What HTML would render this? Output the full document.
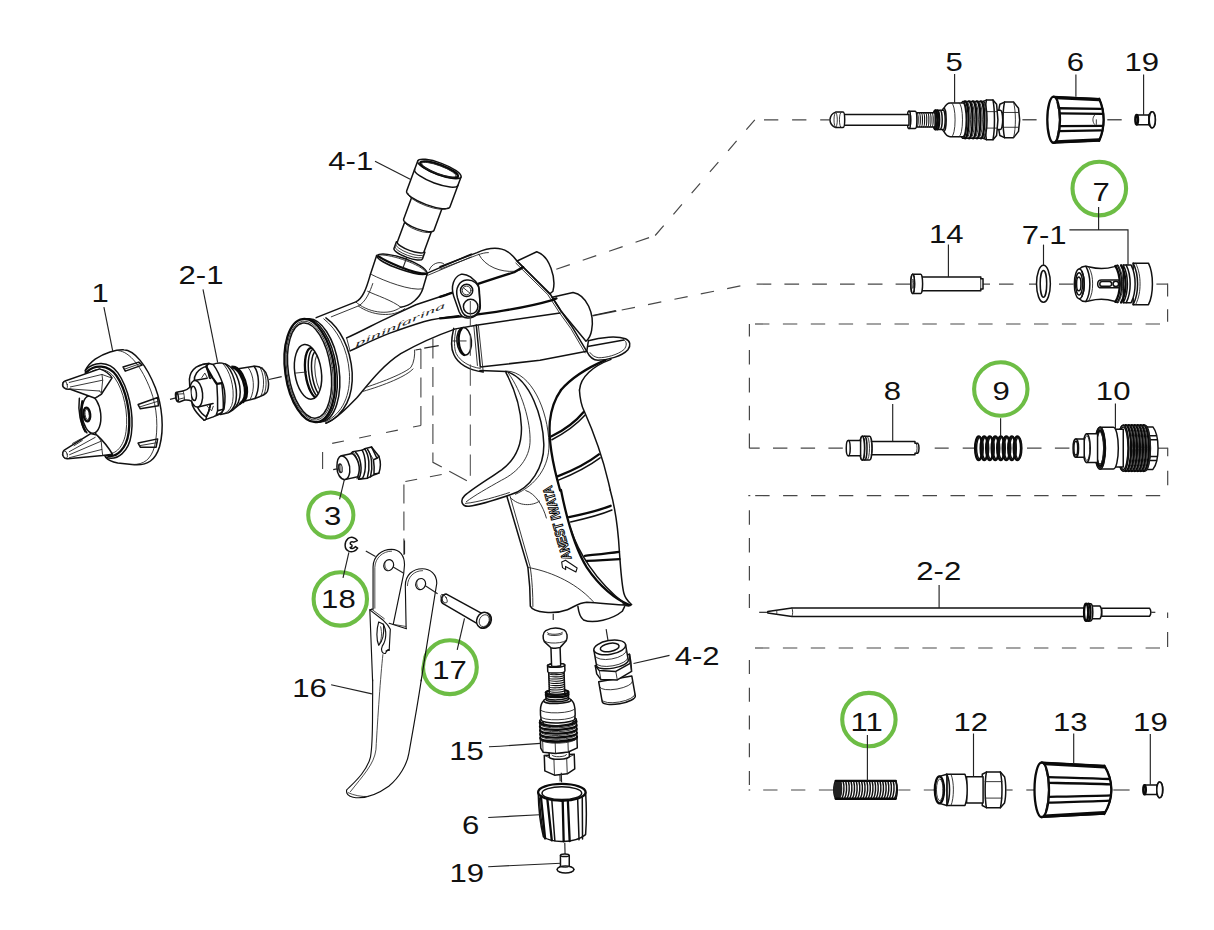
<!DOCTYPE html>
<html><head><meta charset="utf-8"><title>Spray gun parts diagram</title>
<style>
html,body{margin:0;padding:0;background:#fff}
body{width:1214px;height:930px;overflow:hidden}
svg{display:block}
text{font-family:"Liberation Sans",sans-serif;font-size:25.5px;fill:#111}
path,ellipse,circle,line,rect,polyline,polygon{vector-effect:non-scaling-stroke}
.o{fill:none;stroke:#111;stroke-width:1.5;stroke-linejoin:round;stroke-linecap:round}
.of{fill:#fff;stroke:#111;stroke-width:1.5;stroke-linejoin:round;stroke-linecap:round}
.t{fill:none;stroke:#222;stroke-width:0.9;stroke-linejoin:round;stroke-linecap:round}
.tf{fill:#fff;stroke:#222;stroke-width:0.9;stroke-linejoin:round}
.b{fill:none;stroke:#0a0a0a;stroke-width:2.3;stroke-linejoin:round;stroke-linecap:round}
.o2{stroke-width:1.15}
.t2{stroke-width:0.8}
.k{fill:#222;stroke:none}
.ld{fill:none;stroke:#222;stroke-width:1.15}
.d{fill:none;stroke:#444;stroke-width:1.1;stroke-dasharray:14 13}
</style></head><body>
<svg width="1214" height="930" viewBox="0 0 1214 930">
<rect x="0" y="0" width="1214" height="930" fill="#fff" stroke="none"/>
<path d="M556.3 269.2L655.2 235.5" fill="none" stroke="#484848" stroke-width="1.2" stroke-dasharray="14.3 13.6" stroke-dashoffset="-0.00"/>
<path d="M655.2 235.5L754.8 119.8" fill="none" stroke="#484848" stroke-width="1.2" stroke-dasharray="13 14.94" stroke-dashoffset="-0.00"/>
<path d="M754.8 119.8L829 119.8" fill="none" stroke="#484848" stroke-width="1.2" stroke-dasharray="14.3 13.8" stroke-dashoffset="-9.20"/>
<path d="M592.7 315.9L616.4 311.1" fill="none" stroke="#484848" stroke-width="1.2"/>
<path d="M621.7 310L741.6 285.6" fill="none" stroke="#484848" stroke-width="1.2" stroke-dasharray="13.5 13.4" stroke-dashoffset="-0.00"/>
<path d="M756.6 284.1L990 284.1" fill="none" stroke="#484848" stroke-width="1.2" stroke-dasharray="14.7 13.1" stroke-dashoffset="-0.00"/>
<path d="M999 284.1L1078 284.1" fill="none" stroke="#484848" stroke-width="1.2" stroke-dasharray="14.5 15.5" stroke-dashoffset="-0.00"/>
<path d="M1156.4 284.1L1167.6 284.1" fill="none" stroke="#484848" stroke-width="1.2"/>
<path d="M1167.6 283.6L1167.6 296.5" fill="none" stroke="#484848" stroke-width="1.2"/>
<path d="M1167.6 309.3L1167.6 321.7" fill="none" stroke="#484848" stroke-width="1.2"/>
<path d="M755 324L1161 324" fill="none" stroke="#484848" stroke-width="1.2" stroke-dasharray="14.4 13.5" stroke-dashoffset="-0.00"/>
<path d="M749.4 448.2L749.4 324" fill="none" stroke="#484848" stroke-width="1.2" stroke-dasharray="14.6 13.3" stroke-dashoffset="-0.00"/>
<path d="M749.4 448.2L846 448.2" fill="none" stroke="#484848" stroke-width="1.2" stroke-dasharray="14.4 13.3" stroke-dashoffset="4.10"/>
<path d="M934.7 448.2L975 448.2" fill="none" stroke="#484848" stroke-width="1.2" stroke-dasharray="14 14" stroke-dashoffset="-0.00"/>
<path d="M1027 448.2L1075 448.2" fill="none" stroke="#484848" stroke-width="1.2" stroke-dasharray="14.5 13.4" stroke-dashoffset="-0.00"/>
<path d="M1156.8 448.2L1167.7 448.2" fill="none" stroke="#484848" stroke-width="1.2"/>
<path d="M1167.7 447.7L1167.7 456.2" fill="none" stroke="#484848" stroke-width="1.2"/>
<path d="M1167.7 470.7L1167.7 485.2" fill="none" stroke="#484848" stroke-width="1.2"/>
<path d="M748.3 495.6L750.3 495.6" fill="none" stroke="#484848" stroke-width="1.2"/>
<path d="M755.2 495.6L1161.5 495.6" fill="none" stroke="#484848" stroke-width="1.2" stroke-dasharray="14.4 13.5" stroke-dashoffset="-0.00"/>
<path d="M749.4 510.2L749.4 608" fill="none" stroke="#484848" stroke-width="1.2" stroke-dasharray="14.5 13.4" stroke-dashoffset="-0.00"/>
<path d="M1167.6 612.4L1167.6 618" fill="none" stroke="#484848" stroke-width="1.2"/>
<path d="M1167.6 632L1167.6 647" fill="none" stroke="#484848" stroke-width="1.2"/>
<path d="M755 648L1162 648" fill="none" stroke="#484848" stroke-width="1.2" stroke-dasharray="14.4 13.5" stroke-dashoffset="-0.00"/>
<path d="M749.4 659.9L749.4 785.2" fill="none" stroke="#484848" stroke-width="1.2" stroke-dasharray="14 13.75" stroke-dashoffset="-0.00"/>
<path d="M748.6 790L750.2 790" fill="none" stroke="#484848" stroke-width="1.2"/>
<path d="M763.2 790L840 790" fill="none" stroke="#484848" stroke-width="1.2" stroke-dasharray="14.3 13.55" stroke-dashoffset="-0.00"/>
<path d="M898.4 790L940 790" fill="none" stroke="#484848" stroke-width="1.2" stroke-dasharray="12 13.4" stroke-dashoffset="-0.00"/>
<path d="M1006.4 790L1012.6 790" fill="none" stroke="#484848" stroke-width="1.2"/>
<path d="M1026.3 790L1040 790" fill="none" stroke="#484848" stroke-width="1.2" stroke-dasharray="14.5 13.4" stroke-dashoffset="-0.00"/>
<path d="M1113.3 790L1129.6 790" fill="none" stroke="#484848" stroke-width="1.2"/>
<circle cx="1099.3" cy="188.6" r="26.8" fill="none" stroke="#6dbd45" stroke-width="4.1"/>
<circle cx="1000.8" cy="389" r="26.7" fill="none" stroke="#6dbd45" stroke-width="4.1"/>
<circle cx="868.9" cy="719.6" r="26.7" fill="none" stroke="#6dbd45" stroke-width="4.1"/>
<circle cx="330.8" cy="515" r="22.6" fill="none" stroke="#6dbd45" stroke-width="4.0"/>
<circle cx="340.3" cy="598.9" r="26.7" fill="none" stroke="#6dbd45" stroke-width="4.1"/>
<circle cx="449.9" cy="667.2" r="26.9" fill="none" stroke="#6dbd45" stroke-width="4.1"/>
<text transform="translate(91.54,301.80) scale(1.22,1)">1</text>
<text transform="translate(178.47,283.50) scale(1.22,1)">2-1</text>
<text transform="translate(328.30,169.50) scale(1.22,1)">4-1</text>
<text transform="translate(945.53,70.80) scale(1.22,1)">5</text>
<text transform="translate(1066.84,70.80) scale(1.22,1)">6</text>
<text transform="translate(1124.39,70.80) scale(1.22,1)">19</text>
<text transform="translate(1092.53,200.80) scale(1.22,1)">7</text>
<text transform="translate(929.06,243.20) scale(1.22,1)">14</text>
<text transform="translate(1021.71,244.00) scale(1.22,1)">7-1</text>
<text transform="translate(883.65,400.10) scale(1.22,1)">8</text>
<text transform="translate(992.56,400.10) scale(1.22,1)">9</text>
<text transform="translate(1095.86,400.10) scale(1.22,1)">10</text>
<text transform="translate(916.27,579.70) scale(1.22,1)">2-2</text>
<text transform="translate(850.44,730.60) scale(1.22,1)">11</text>
<text transform="translate(953.54,730.60) scale(1.22,1)">12</text>
<text transform="translate(1052.99,730.60) scale(1.22,1)">13</text>
<text transform="translate(1133.09,730.60) scale(1.22,1)">19</text>
<text transform="translate(323.94,524.80) scale(1.22,1)">3</text>
<text transform="translate(321.08,607.70) scale(1.22,1)">18</text>
<text transform="translate(432.24,678.90) scale(1.22,1)">17</text>
<text transform="translate(292.24,697.10) scale(1.22,1)">16</text>
<text transform="translate(449.31,759.90) scale(1.22,1)">15</text>
<text transform="translate(462.04,833.80) scale(1.22,1)">6</text>
<text transform="translate(449.39,882.00) scale(1.22,1)">19</text>
<text transform="translate(674.69,665.00) scale(1.22,1)">4-2</text>
<g transform="translate(270,230) scale(0.20429) "><path class="o" d="M226 429 L420 352 C455 335 472 285 490 222 L522 125"/><path class="t" d="M300 425 L432 372 C470 352 490 300 503 262"/><path class="of" d="M522 125 C560 95 765 165 770 213 C740 235 530 165 522 125 Z"/><path class="b" d="M530 128 C560 150 700 215 768 214"/><path class="t" d="M538 122 C600 120 740 170 762 205"/><path class="o" d="M770 213 L748 288 C735 330 690 372 640 378"/><path class="t" d="M503 262 C520 215 L 500 210"/><path class="t" d="M497 218 C560 250 690 300 748 288"/><path class="t" d="M478 300 C520 320 600 345 640 378"/><path class="t" d="M420 352 C470 400 580 425 640 378"/><path class="t" d="M432 372 C500 420 600 430 660 385"/><path class="o" d="M770 211 L985 118"/><path class="t" d="M772 222 L985 132"/><path class="t" d="M780 195 C790 165 830 150 850 165"/><path class="o" d="M375 528 C450 495 520 455 587 425 L714 366 L891 307"/><path class="o" d="M392 592 C450 565 520 530 587 505 C650 482 700 465 756 448 C820 432 880 425 924 420"/><path class="t" d="M375 528 L392 592"/><path class="o" d="M274 945 C330 925 383 863 424 822 C470 770 540 670 640 605 C720 560 820 515 908 484 L1010 466"/><path class="t" d="M470 770 C560 740 660 700 690 672 C705 650 710 610 708 588"/><path class="t" d="M455 790 C560 760 670 715 700 680"/></g>
<text transform="translate(355.5,347) rotate(-23.8) skewX(-22)" style="font-family:'Liberation Serif',serif;font-style:italic;font-size:7.5px;fill:#222" textLength="98" lengthAdjust="spacingAndGlyphs">pininfarina</text>
<g transform="translate(270,300) scale(0.13978) "><path class="of" d="M400 128 C500 200 575 340 588 520 C596 680 540 820 400 882"/><path class="t" d="M385 135 C480 210 556 345 568 520 C576 675 525 810 395 872"/><ellipse class="of" cx="318" cy="503" rx="176" ry="372" transform="rotate(-8 318 503)" /><ellipse class="of" cx="300" cy="504" rx="176" ry="372" transform="rotate(-8 300 504)" /><ellipse class="b" style="fill:#fff" cx="285" cy="505" rx="176" ry="372" transform="rotate(-8 285 505)" /><ellipse class="t" cx="284" cy="505" rx="163" ry="357" transform="rotate(-8 284 505)" /><ellipse class="o" cx="283" cy="505" rx="152" ry="343" transform="rotate(-8 283 505)" /><ellipse class="o" cx="272" cy="514" rx="95" ry="197" transform="rotate(-8 272 514)" /><clipPath id="holeclip"><ellipse cx="272" cy="514" rx="95" ry="197" transform="rotate(-8 272 514)"/></clipPath><g clip-path="url(#holeclip)"><ellipse class="b" cx="320" cy="522" rx="66" ry="182" transform="rotate(-8 320 522)" /><ellipse class="o" cx="338" cy="525" rx="60" ry="176" transform="rotate(-8 338 525)" /><ellipse class="o" cx="356" cy="528" rx="55" ry="165" transform="rotate(-8 356 528)" /><ellipse class="t" cx="372" cy="530" rx="48" ry="150" transform="rotate(-8 372 530)" /></g><path class="t" d="M180 523 L262 515"/></g>
<g transform="translate(440,230) scale(0.16129) "><path class="of" d="M478 192 L600 135 C680 160 722 300 700 380 L680 397 Z"/><path class="of" d="M695 417 L825 387 C910 402 960 522 940 622 C935 652 920 677 905 690 L750 502 Z"/><path class="of" d="M920 687 C1000 662 1100 657 1150 674 C1180 687 1185 717 1165 742 C1130 782 1040 807 980 807 C950 807 925 782 910 752 Z"/><path class="o" d="M915 722 L1140 682"/><path class="t" d="M1140 682 C1160 690 1160 720 1140 742 C1100 775 1030 792 985 792 C960 790 940 775 930 760"/><path class="o" d="M0 228 L230 140 C300 110 370 105 420 135 C445 150 465 175 480 195 L680 392 L750 502 L820 602 L910 752"/><path class="t" d="M0 243 L228 156 C260 145 280 140 300 140"/><path class="t" d="M470 205 L668 400 L740 512 L812 612 L900 762"/><path class="t" d="M240 150 C280 230 380 262 460 256 C500 252 522 238 515 226"/><path class="b" d="M0 415 C90 385 240 330 460 262 L515 230"/><path class="b" d="M0 548 C200 532 500 492 690 436 L722 424"/><path class="o" d="M225 590 L744 515"/><path class="o" d="M225 590 L250 850 L620 807 L910 752"/><path class="t" d="M238 592 L268 880"/><path class="t" d="M210 598 L232 840"/><path class="of" d="M130 275 C165 268 215 300 240 350 L250 470 C250 520 215 548 170 545 C145 545 128 530 118 505 L85 410 C65 350 85 290 130 275 Z"/><path class="o" d="M165 310 C205 305 240 335 244 375 L248 470 C245 515 215 540 185 538 C160 538 140 520 132 495 L108 420 C92 360 120 315 165 310 Z"/><ellipse class="o" cx="165" cy="375" rx="38" ry="38" transform="rotate(0 165 375)" /><ellipse class="t" cx="165" cy="375" rx="27" ry="27" transform="rotate(0 165 375)" /><path class="t" d="M145 358 L186 392"/><ellipse class="o" cx="190" cy="475" rx="45" ry="45" transform="rotate(0 190 475)" /><ellipse class="o" cx="150" cy="690" rx="45" ry="86" transform="rotate(-5 150 690)" /><path class="b" d="M135 610 C105 650 110 740 150 775"/><path class="t" d="M80 688 L162 688"/><path class="o" d="M85 610 C68 680 70 740 85 770 C110 830 180 870 268 880"/><path class="t" d="M100 615 C85 680 88 735 100 765 C125 815 185 850 250 858"/><path class="b" d="M1025 807 C920 852 820 912 750 992"/><path class="o" d="M1060 802 C950 842 870 912 865 992"/><path class="ld" d="M945 530 L1090 500"/></g>
<path d="M470.3 301L470.3 326.8" fill="none" stroke="#484848" stroke-width="1.0"/>
<path d="M470.3 334.5L470.3 476" fill="none" stroke="#484848" stroke-width="1.0" stroke-dasharray="21.3 8.7" stroke-dashoffset="0.00"/>
<g transform="translate(450,370) scale(0.17212) "><path class="o" d="M325 15 C370 100 410 200 415 330 C418 430 380 520 300 580 C230 630 130 690 85 730 C55 760 70 795 110 792 C180 782 300 742 350 725 C470 690 548 560 545 430 C540 280 470 50 325 8"/><path class="t" d="M340 20 C415 120 470 300 465 420 C460 510 400 590 300 640 C220 685 140 730 95 765"/><path class="t" d="M330 6 C470 10 570 230 575 430 C578 560 500 670 380 722"/><path class="o" d="M174 3 L325 8"/><path class="t" d="M90 775 C160 770 290 730 345 712"/><path class="b" d="M645 116 C600 180 585 250 580 300 C570 420 600 560 640 700"/><path class="o" d="M752 116 C755 170 765 210 780 240 C820 330 880 480 920 650 L931 697"/><path class="b" d="M590 385 C660 350 730 300 775 245"/><path class="o" d="M592 405 C665 368 735 318 785 262"/><path class="b" d="M625 618 C710 585 800 540 865 490"/><path class="o" d="M630 640 C715 605 805 560 872 510"/><path class="t" d="M350 740 C400 795 480 790 520 762"/><path class="t" d="M440 700 C500 720 540 790 560 860"/></g>
<g transform="translate(490,490) scale(0.16129) "><path class="o" d="M105 40 L235 480 C245 560 250 650 250 720 C270 762 400 772 480 742 C520 727 545 700 600 696 C700 700 800 716 872 712"/><path class="t" d="M125 40 L250 480 C262 560 266 650 266 722"/><path class="t" d="M235 480 C350 500 520 560 640 692"/><path class="b" d="M440 0 C470 150 520 350 600 480 C680 600 780 680 862 712"/><path class="o" d="M500 240 C545 380 650 560 835 705"/><path class="o" d="M745 0 C762 60 792 200 802 380 C810 480 815 580 830 640 C840 680 868 700 878 710 C862 728 840 716 825 706"/><path class="b" d="M490 168 C580 150 680 125 748 98"/><path class="o" d="M500 198 C590 178 690 152 756 124"/><path class="b" d="M588 408 C660 400 740 392 800 383"/><path class="b" d="M600 440 C670 436 745 432 803 428"/><path class="o" d="M545 722 C550 762 560 792 580 806 C640 832 760 802 820 752 L835 722"/><path class="ld" d="M392 767 L392 806"/><path class="ld" d="M720 862 L732 935"/></g>
<text transform="translate(571.6,558.4) rotate(-105.2)" style="font-weight:bold;font-size:13.6px;fill:#fff;stroke:#000;stroke-width:1px" textLength="76" lengthAdjust="spacingAndGlyphs">ANEST IWATA</text>
<path class="o" style="stroke-width:1.1" d="M561.7 562.1 L565.5 560.2 L577.1 568 L575.9 572 L565.5 566.4 L565.7 569.6 L562.5 567.6 Z"/>
<g transform="translate(300,120) scale(0.16474) translate(846,297) rotate(20.2)"><path class="ld" d="M0 540 L0 640"/><path class="of" d="M-92 505 L-92 548 A92 24 0 0 0 92 548 L92 505 Z"/><path class="t" d="M-92 520 A92 24 0 0 0 92 520"/><path class="t" d="M-92 535 A92 24 0 0 0 92 535"/><path class="of" d="M-86 378 L-86 505 A86 22 0 0 0 86 505 L86 378 Z"/><path class="of" d="M-98 215 L-98 362 A98 26 0 0 0 98 362 L98 215 Z"/><path class="t" d="M-90 372 A90 24 0 0 0 90 372"/><path class="of" d="M-140 0 L-140 195 A140 36 0 0 0 140 195 L140 0 Z"/><path class="t" d="M-128 205 A128 33 0 0 0 128 205"/><path class="o" d="M-140 55 A140 36 0 0 0 140 55"/><ellipse class="of" cx="0" cy="0" rx="140" ry="36" transform="rotate(0 0 0)" /><ellipse class="b" cx="0" cy="4" rx="122" ry="29" transform="rotate(0 0 4)" /><ellipse class="t" cx="0" cy="6" rx="112" ry="25" transform="rotate(0 0 6)" /></g>
<path class="ld" d="M375 161.2L410.7 179.6"/>
<g transform="translate(50,335) scale(0.15056) "><path class="of" d="M300 160 C360 120 440 95 490 98 C560 100 640 200 700 350 C745 470 760 620 728 740 C700 830 650 868 560 862 L450 850 C400 840 380 825 370 812 C300 700 230 400 235 235 C250 200 280 175 300 160 Z"/><path class="t" d="M455 104 C530 110 610 215 668 365 C712 480 722 625 694 742 C670 825 625 862 548 860"/><path class="o" d="M235 235 C290 175 390 170 450 250 C520 350 560 520 540 660 C525 770 450 840 370 812"/><path class="b" d="M245 245 C295 195 385 195 440 268 C505 360 540 520 522 650 C508 755 440 820 378 800"/><path class="t" d="M258 255 C300 215 380 215 430 285 C490 370 522 520 505 640 C492 740 432 800 385 785"/><path class="o" d="M485 212 L590 180 L612 200 L500 240 Z"/><path class="t" d="M500 225 L600 190"/><path class="o" d="M585 462 L715 415 L720 470 L600 490 Z"/><path class="t" d="M595 478 L718 440"/><path class="o" d="M585 718 L715 690 L705 745 L600 745 Z"/><path class="t" d="M595 735 L712 715"/><path class="o" d="M195 420 C185 500 200 600 245 650"/><ellipse class="of" cx="275" cy="528" rx="62" ry="125" transform="rotate(-6 275 528)" /><ellipse class="b" cx="245" cy="528" rx="22" ry="46" transform="rotate(-6 245 528)" /><ellipse class="t" cx="247" cy="528" rx="14" ry="34" transform="rotate(-6 247 528)" /><path class="b" d="M215 440 C200 500 205 590 235 640"/><path class="of" d="M100 305 L330 225 C370 240 400 262 412 285 L340 395 L300 420 L135 360 C100 365 78 345 85 322 C88 312 93 307 100 305 Z"/><ellipse class="t" cx="100" cy="332" rx="15" ry="26" transform="rotate(-15 100 332)" /><path class="t" d="M128 315 L345 262 L408 285"/><path class="t" d="M135 345 L350 300 L340 395"/><path class="t" d="M130 358 L330 372"/><path class="t" d="M345 262 L350 300"/><path class="t" d="M300 420 L345 390 L330 372"/><path class="of" d="M95 765 L270 655 L312 665 C350 700 390 750 415 792 L350 800 L118 822 C95 825 78 800 85 780 C88 772 90 768 95 765 Z"/><ellipse class="t" cx="100" cy="795" rx="15" ry="26" transform="rotate(-15 100 795)" /><path class="t" d="M128 775 L300 680"/><path class="t" d="M130 795 L340 705 L312 665"/><path class="t" d="M128 815 L345 760 L340 705"/><path class="t" d="M345 760 L350 800"/><path class="t" d="M160 735 L215 700 M150 720 L205 690"/></g>
<path class="ld" d="M103.9 307.2L112.7 350.8"/>
<g transform="translate(170,350) scale(0.09884) "><path class="ld" d="M0 500 L70 482"/><path class="ld" d="M1000 298 L1130 270"/><path class="of" d="M690 190 L850 165 C900 160 940 180 970 230 C1000 290 1005 370 985 420 C970 450 940 460 860 490 L760 515 Z"/><path class="o" d="M850 165 C900 230 915 380 860 490"/><path class="t" d="M905 168 C950 230 965 370 920 465"/><path class="t" d="M930 175 C975 235 990 370 948 455"/><path class="t" d="M790 176 C850 250 865 400 810 503"/></g>
<g transform="translate(180,355) scale(0.07524) "><path class="of" d="M690 150 C760 150 830 260 860 400 C885 520 860 620 800 650 L700 730 Z"/><path class="b" d="M700 165 C775 190 835 300 860 430 C875 540 850 610 800 645"/><path class="b" d="M730 160 C805 185 865 300 888 430 C900 530 880 590 840 625"/><path class="of" d="M440 125 C470 110 520 103 560 108 C640 120 710 180 750 270 C790 360 810 470 795 560 C780 650 720 730 640 768 L540 792 Z"/><path class="o" d="M600 120 C700 200 770 420 745 600 C735 670 700 720 660 755"/><path class="t" d="M560 108 C660 190 730 430 700 620 C690 690 650 745 600 775"/><path class="of" d="M300 125 L385 112 L440 125 C490 190 540 300 575 400 C600 480 605 600 585 720 L540 782 L440 822 L320 866 Z"/><path class="b" d="M345 150 L430 300 L490 385 L555 375"/><path class="o" d="M490 385 C498 500 502 640 500 740 L575 720"/><path class="o" d="M555 375 C568 480 578 620 575 720"/><path class="o" d="M500 740 L480 800 L560 762 L575 720"/><path class="t" d="M480 800 L440 822"/><path class="o" d="M385 112 L345 150"/><path class="of" d="M385 112 C330 112 260 135 215 160 C165 195 130 260 125 320 L132 470 L165 670 C190 730 260 815 320 866 C345 866 352 845 350 822 C420 700 450 400 345 150 Z"/><path class="o" d="M360 150 C310 160 250 200 220 240 C195 275 188 320 190 350 M235 700 C260 745 310 800 350 822"/><path class="o" d="M345 150 C440 330 445 650 350 822"/><path class="t" d="M290 300 L330 240 L362 300 M362 682 L420 742 L442 682"/><path class="of" style="stroke:none" d="M190 340 L360 310 L440 330 L440 640 L240 690 Z"/><path class="o" d="M190 340 L360 310 M240 690 L440 645"/><ellipse class="of" cx="215" cy="515" rx="85" ry="178" transform="rotate(-6 215 515)" /><ellipse class="o" cx="182" cy="510" rx="36" ry="96" transform="rotate(-6 182 510)" /><path class="of" d="M135 425 C110 450 80 470 40 478 L-30 492 C-55 500 -60 560 -45 600 C-35 625 -15 628 0 622 L60 598 C100 595 130 600 152 612"/><ellipse class="o" cx="-40" cy="555" rx="18" ry="62" transform="rotate(-8 -40 555)" /><path class="t" d="M40 478 C55 510 58 560 60 598"/><path class="t" d="M-30 520 L45 515 M-25 590 L55 570"/></g>
<path class="ld" d="M203 289.4L217.7 362.6"/>
<path class="d" style="stroke-dasharray:20 8.5" d="M420.9 349 L420.9 425.5"/>
<path class="d" style="stroke-dasharray:12 15.5;stroke-dashoffset:4" d="M420.9 425.5 L322.6 445.3"/>
<path class="d" style="stroke-dasharray:17 8" d="M322.6 452 L322.6 469"/>
<path class="ld" d="M415.5 350 L421 349"/>
<path class="d" style="stroke-dasharray:20 8.5" d="M432.9 338.4 L432.9 462.3 L468.8 481.7"/>
<path class="ld" d="M424.2 348.1 L438.7 345.6"/>
<path class="d" style="stroke-dasharray:12 13" d="M441.7 474.5 L403.9 481.7"/>
<path class="d" style="stroke-dasharray:19 8" d="M403.9 484.5 L403.9 555"/>
<g transform="translate(328,440) scale(0.04943) "><path class="ld" d="M105 598 L180 585"/><path class="of" d="M690 205 L760 172 L880 140 L1030 330 C1050 390 1062 450 1060 500 C1058 560 1048 620 1030 670 L940 702 L800 772 L620 792 Z"/><path class="o" d="M880 140 L990 370 L1030 330"/><path class="o" d="M990 370 L920 400 C935 500 940 600 930 690 L1030 670"/><path class="t" d="M920 400 L800 190"/><path class="t" d="M930 690 L860 745"/><path class="o" d="M800 190 C880 300 915 520 860 745"/><path class="o" d="M740 178 C830 300 860 540 795 772"/><path class="of" d="M450 285 L500 238 L690 205 C760 320 790 600 700 775 L620 792 Z"/><path class="o" d="M560 250 C650 340 720 600 620 792"/><path class="t" d="M500 238 C600 330 690 600 585 785"/><path class="of" d="M270 320 L490 272 C600 360 680 560 600 742 L340 802 C250 790 180 690 180 540 C182 420 220 335 270 320 Z"/><path class="o" d="M270 320 C380 330 460 500 440 650 C430 730 390 790 340 802"/><ellipse class="k" cx="250" cy="572" rx="50" ry="102" transform="rotate(-8 250 572)" /><ellipse class="" style="fill:#999;stroke:none" cx="262" cy="575" rx="28" ry="70" transform="rotate(-8 262 575)" /></g>
<path class="ld" d="M344.5 479L339.6 499.3"/>
<g transform="translate(320,430) scale(0.15053) "><path class="o" d="M248 735 C235 712 205 705 185 722 C160 745 160 790 190 805 C212 815 238 805 250 785 L235 775 C225 790 205 792 200 780 C215 778 218 765 205 760 C195 752 205 735 225 745 Z"/></g>
<path class="ld" d="M348.9 552.3L343 577.9"/>
<path class="ld" d="M365.8 551L375.5 556.6"/>
<g transform="translate(340,530) scale(0.16129) "><path class="of" style="stroke:none" d="M405 345 C405 280 450 240 510 240 C560 240 600 275 600 330 L490 930 L202 930 L185 495 L205 490 L205 230 C205 160 260 120 320 120 C370 120 400 160 400 215 L395 270 L330 585 L305 578 L412 612 Z"/><path class="o o2" d="M410 610 L405 345 C405 280 450 240 510 240 C560 240 600 275 600 330 L503 935"/><path class="t t2" d="M418 345 C420 290 460 252 512 252"/><ellipse class="o o2" cx="500" cy="335" rx="30" ry="35" transform="rotate(20 500 335)" /><path class="t t2" d="M480 312 C470 330 478 355 492 365"/><path class="o o2" d="M205 490 L205 230 C205 160 260 120 320 120 C370 120 400 160 400 215 L395 270 L330 585"/><path class="t t2" d="M216 485 L216 232 C218 172 265 132 320 131"/><ellipse class="o o2" cx="302" cy="218" rx="30" ry="35" transform="rotate(20 302 218)" /><path class="t t2" d="M282 195 C272 213 280 238 294 248"/><path class="o o2" d="M305 578 L412 612"/><path class="t t2" d="M330 585 L408 598"/><path class="o o2" d="M205 490 L185 495 L202 935"/><path class="o o2" d="M185 495 L268 560 C290 580 305 600 312 615 L305 745 L285 750"/><path class="t t2" d="M195 490 L275 550"/><path class="o o2" d="M240 570 C225 620 225 680 240 715 C262 690 275 640 270 585 Z"/><path class="o o2" d="M268 585 C290 620 290 680 262 720 C250 745 262 770 282 765 C290 745 300 735 305 745"/><path class="t t2" d="M252 600 C262 640 258 680 245 705"/><path class="ld" d="M400 65 L400 150"/></g>
<path class="ld" d="M393.2 567.1L403.7 573.2"/>
<path class="ld" d="M425 585.6L437.6 593.7"/>
<g transform="translate(290,640) scale(0.18285) "><path class="o o2" d="M452 218 L452 300 C450 450 455 560 440 640 C420 720 350 780 310 820 C305 840 320 855 345 860 C400 870 470 850 540 800 C600 750 640 680 650 620 C675 480 700 340 718 218"/><path class="t t2" d="M508 80 C495 200 480 420 470 600 C460 680 400 740 330 830"/><path class="t t2" d="M318 835 C350 850 390 858 430 856"/></g>
<path class="ld" d="M331.1 684.8L371.9 693.9"/>
<g transform="translate(400,560) scale(0.17191) "><path class="of" d="M270 198 L478 312 L452 372 L248 252 C232 240 240 200 270 198 Z"/><ellipse class="t" cx="256" cy="225" rx="14" ry="28" transform="rotate(-28 256 225)" /><path class="t" d="M262 196 C245 205 240 240 255 255"/><ellipse class="of" cx="492" cy="352" rx="38" ry="47" transform="rotate(25 492 352)" /><ellipse class="of" cx="485" cy="350" rx="38" ry="47" transform="rotate(25 485 350)" /><ellipse class="t" cx="490" cy="353" rx="28" ry="36" transform="rotate(25 490 353)" /></g>
<path class="ld" d="M464.5 618.4L457.2 649.9"/>
<g transform="translate(500,620) scale(0.18285) translate(300,48) rotate(-2)"><path class="ld" d="M0 785 L0 835"/><path class="of" d="M-82 690 L-82 775 L-30 800 L40 795 L82 770 L82 690 Z"/><path class="t" d="M-30 800 L-30 715 M40 795 L40 712"/><path class="t" d="M-82 690 L-30 715 L40 712 L82 690"/><path class="of" d="M-55 665 L-55 700 A55 14 0 0 0 55 700 L55 665 A55 14 0 0 0 -55 665 Z"/><path class="of" d="M-55 665 A55 14 0 0 0 55 665" style="fill:none"/><path class="t" d="M-40 690 A40 10 0 0 0 40 690"/><path class="of" d="M-100 598 L-100 650 L-88 672 L-20 682 L50 676 L100 655 L100 598 Z"/><path class="t" d="M-88 672 L-88 612 M-20 682 L-20 622 M50 676 L50 618"/><path class="t" d="M-100 608 L-88 612 L-20 622 L50 618 L100 606"/><path class="of" d="M-100 500 L-100 598 A100 22 0 0 0 100 598 L100 500 A100 22 0 0 0 -100 500 Z"/><path class="of" d="M-100 500 A100 22 0 0 0 100 500" style="fill:none"/><path class="b" d="M-100 510 A100 22 0 0 0 100 510"/><path class="t" d="M-98 520 A98 22 0 0 0 98 520"/><path class="b" d="M-100 531 A100 22 0 0 0 100 531"/><path class="t" d="M-98 541 A98 22 0 0 0 98 541"/><path class="b" d="M-100 552 A100 22 0 0 0 100 552"/><path class="t" d="M-98 562 A98 22 0 0 0 98 562"/><path class="b" d="M-100 573 A100 22 0 0 0 100 573"/><path class="t" d="M-98 583 A98 22 0 0 0 98 583"/><path class="b" d="M-100 594 A100 22 0 0 0 100 594"/><path class="t" d="M-98 604 A98 22 0 0 0 98 604"/><path class="of" d="M-82 488 L-82 512 A82 18 0 0 0 82 512 L82 488 A82 18 0 0 0 -82 488 Z"/><path class="of" d="M-82 488 A82 18 0 0 0 82 488" style="fill:none"/><path class="of" d="M-75 392 C-100 410 -96 470 -92 495 A92 20 0 0 0 92 495 C96 470 100 410 75 392 Z"/><path class="t" d="M-94 440 A94 20 0 0 0 94 440"/><path class="t" d="M-94 478 A94 20 0 0 0 94 478"/><ellipse class="of" cx="0" cy="392" rx="75" ry="17" transform="rotate(0 0 392)" /><path class="of" d="M-62 348 L-62 385 A62 14 0 0 0 62 385 L62 348 A62 14 0 0 0 -62 348 Z"/><path class="of" d="M-62 348 A62 14 0 0 0 62 348" style="fill:none"/><path class="b" d="M-62 360 A62 14 0 0 0 62 360"/><path class="o" d="M-60 375 A60 14 0 0 0 60 375"/><ellipse class="b" style="fill:#fff" cx="0" cy="348" rx="62" ry="14" transform="rotate(0 0 348)" /><path class="of" style="stroke:none" d="M-42 235 L-42 350 L42 350 L42 235 Z"/><path class="o" style="stroke-width:1.1" d="M-42 242 A42 9 0 0 0 42 242"/><path class="o" style="stroke-width:1.1" d="M-42 254 A42 9 0 0 0 42 254"/><path class="o" style="stroke-width:1.1" d="M-42 266 A42 9 0 0 0 42 266"/><path class="o" style="stroke-width:1.1" d="M-42 278 A42 9 0 0 0 42 278"/><path class="o" style="stroke-width:1.1" d="M-42 290 A42 9 0 0 0 42 290"/><path class="o" style="stroke-width:1.1" d="M-42 302 A42 9 0 0 0 42 302"/><path class="o" style="stroke-width:1.1" d="M-42 314 A42 9 0 0 0 42 314"/><path class="o" style="stroke-width:1.1" d="M-42 326 A42 9 0 0 0 42 326"/><path class="o" style="stroke-width:1.1" d="M-42 338 A42 9 0 0 0 42 338"/><path class="o" style="stroke-width:1.1" d="M-42 350 A42 9 0 0 0 42 350"/><path class="o" d="M-42 238 L-42 350 M42 238 L42 350"/><path class="of" d="M-47 200 L-47 232 A47 10 0 0 0 47 232 L47 200 A47 10 0 0 0 -47 200 Z"/><path class="of" d="M-47 200 A47 10 0 0 0 47 200" style="fill:none"/><ellipse class="of" cx="0" cy="200" rx="47" ry="10" transform="rotate(0 0 200)" /><path class="of" d="M-25 95 L-25 200 A25 6 0 0 0 25 200 L25 95 Z"/><path class="of" d="M-50 8 C-70 20 -68 50 -60 68 L-28 100 A28 6 0 0 0 28 100 L60 68 C68 50 70 20 50 8 C20 -6 -20 -6 -50 8 Z"/><path class="t" d="M-62 62 A62 16 0 0 0 62 62"/><path class="t" d="M-42 20 A42 10 0 0 0 42 20"/><path class="t" d="M-40 30 A42 10 0 0 0 40 30"/></g>
<path class="ld" d="M500 746.2L540.6 743.4"/>
<path class="ld" d="M489 746.8L500 746.2"/>
<g transform="translate(500,620) scale(0.18285) translate(600,150) rotate(-10)"><path class="of" d="M-92 175 L-92 285 A92 28 0 0 0 92 285 L92 175 Z"/><path class="t" d="M-92 275 A92 28 0 0 0 92 275"/><path class="t" d="M-90 205 A90 26 0 0 0 90 205"/><path class="of" d="M-95 85 L-95 130 L-78 165 L10 182 L95 150 L100 100 L100 55 Z"/><path class="o" d="M-95 85 L-78 115 L10 135 L95 105 L100 55"/><path class="t" d="M-78 115 L-78 165 M10 135 L10 182 M95 105 L95 150"/><path class="of" d="M-88 0 L-88 85 A88 30 0 0 0 88 85 L88 0 Z"/><path class="t" d="M-88 30 A88 34 0 0 0 88 30"/><path class="t" d="M-88 72 A88 30 0 0 0 88 72"/><ellipse class="of" cx="0" cy="0" rx="88" ry="38" transform="rotate(0 0 0)" /><ellipse class="o" cx="0" cy="0" rx="52" ry="22" transform="rotate(0 0 0)" /></g>
<path class="ld" d="M633.5 663.5L669.5 655.4"/>
<g transform="translate(440,770) scale(0.13974) "><path class="ld" d="M868 20 L870 88"/><path class="ld" d="M893 520 L895 602"/><path class="of" d="M703 165 C705 260 720 400 740 478 C790 520 960 530 1042 462 C1048 380 1048 250 1042 160 Z"/><ellipse class="b" style="fill:#fff" cx="872" cy="160" rx="170" ry="60" transform="rotate(0 872 160)" /><ellipse class="o" cx="872" cy="166" rx="142" ry="46" transform="rotate(0 872 166)" /><path class="b" d="M722 188 L752 490"/><path class="b" d="M768 207 L800 503"/><path class="o" d="M800 214 L822 506"/><path class="b" d="M878 220 L885 510"/><path class="b" d="M915 218 L928 509"/><path class="o" d="M985 205 L995 500"/><path class="o" d="M1018 191 L1020 493"/><path class="o" d="M712 200 C716 290 730 410 748 486"/><path class="of" d="M862 612 L862 690 L840 712 A60 25 0 0 0 958 712 L925 690 L925 612 Z"/><ellipse class="of" cx="893" cy="610" rx="31" ry="9" transform="rotate(0 893 610)" /><ellipse class="of" cx="898" cy="712" rx="60" ry="25" transform="rotate(0 898 712)" /><path class="t" d="M862 690 A32 9 0 0 0 925 690"/></g>
<path class="ld" d="M488.2 817.5L539.5 814.7"/>
<path class="ld" d="M488.2 866.7L560.9 863.3"/>
<g transform="translate(820,80) scale(0.16474) translate(0,242)"><path class="of" d="M1092 -95 L1120 -108 L1175 -108 L1205 -70 L1212 0 L1205 70 L1175 108 L1120 108 L1092 95 C1080 50 1080 -50 1092 -95 Z"/><path class="o" d="M1120 -108 C1108 -50 1108 50 1120 108"/><path class="t" d="M1175 -108 C1190 -50 1190 50 1175 108"/><path class="t" d="M1092 -45 L1205 -45 M1092 45 L1205 45"/><path class="of" d="M1060 -58 L1095 -58 A14 58 0 0 1 1095 58 L1060 58 A14 58 0 0 1 1060 -58 Z"/><path class="of" d="M1060 -58 A14 58 0 0 1 1060 58" style="fill:none"/><path class="of" d="M990 -112 L1010 -120 L1050 -120 L1072 -95 L1080 0 L1072 95 L1050 120 L1010 120 L990 112 Z"/><path class="o" d="M1010 -120 C1000 -60 1000 60 1010 120 M1050 -120 C1062 -60 1062 60 1050 120"/><path class="t" d="M995 -50 L1075 -50 M995 50 L1075 50"/><path class="of" d="M868 -112 L992 -112 A22 112 0 0 1 992 112 L868 112 A22 112 0 0 1 868 -112 Z"/><path class="of" d="M868 -112 A22 112 0 0 1 868 112" style="fill:none"/><path class="b" d="M880 -112 A22 112 0 0 1 880 112"/><path class="t" d="M892 -110 A22 110 0 0 1 892 110"/><path class="b" d="M904 -112 A22 112 0 0 1 904 112"/><path class="t" d="M916 -110 A22 110 0 0 1 916 110"/><path class="b" d="M928 -112 A22 112 0 0 1 928 112"/><path class="t" d="M940 -110 A22 110 0 0 1 940 110"/><path class="b" d="M952 -112 A22 112 0 0 1 952 112"/><path class="t" d="M964 -110 A22 110 0 0 1 964 110"/><path class="b" d="M976 -112 A22 112 0 0 1 976 112"/><path class="t" d="M988 -110 A22 110 0 0 1 988 110"/><path class="of" d="M752 -70 C765 -95 775 -102 790 -102 L868 -102 A20 102 0 0 1 868 102 L790 102 C775 102 765 95 752 70 Z"/><path class="t" d="M800 -102 A20 102 0 0 1 800 102"/><path class="t" d="M845 -102 A20 102 0 0 1 845 102"/><ellipse class="of" cx="752" cy="0" rx="14" ry="70" transform="rotate(0 752 0)" /><path class="of" d="M700 -58 L748 -58 A12 58 0 0 1 748 58 L700 58 A12 58 0 0 1 700 -58 Z"/><path class="of" d="M700 -58 A12 58 0 0 1 700 58" style="fill:none"/><path class="b" d="M712 -58 A12 58 0 0 1 712 58"/><path class="o" d="M730 -57 A12 57 0 0 1 730 57"/><ellipse class="b" style="fill:#fff" cx="700" cy="0" rx="12" ry="58" transform="rotate(0 700 0)" /><path class="of" d="M580 -43 L700 -43 L700 43 L580 43 Z"/><path class="o" style="stroke-width:1.1" d="M588 -43 A8 43 0 0 1 588 43"/><path class="o" style="stroke-width:1.1" d="M601 -43 A8 43 0 0 1 601 43"/><path class="o" style="stroke-width:1.1" d="M614 -43 A8 43 0 0 1 614 43"/><path class="o" style="stroke-width:1.1" d="M627 -43 A8 43 0 0 1 627 43"/><path class="o" style="stroke-width:1.1" d="M640 -43 A8 43 0 0 1 640 43"/><path class="o" style="stroke-width:1.1" d="M653 -43 A8 43 0 0 1 653 43"/><path class="o" style="stroke-width:1.1" d="M666 -43 A8 43 0 0 1 666 43"/><path class="o" style="stroke-width:1.1" d="M679 -43 A8 43 0 0 1 679 43"/><path class="o" style="stroke-width:1.1" d="M692 -43 A8 43 0 0 1 692 43"/><path class="of" d="M540 -53 L578 -53 A10 53 0 0 1 578 53 L540 53 A10 53 0 0 1 540 -53 Z"/><path class="of" d="M540 -53 A10 53 0 0 1 540 53" style="fill:none"/><ellipse class="of" cx="540" cy="0" rx="10" ry="53" transform="rotate(0 540 0)" /><path class="of" d="M140 -32 L540 -32 L540 32 L140 32 Z"/><path class="of" d="M140 -47 L95 -47 C75 -40 62 -20 60 0 C62 20 75 40 95 47 L140 47 A10 47 0 0 0 140 -47 Z"/><path class="t" d="M95 -47 A10 47 0 0 1 95 47"/><path class="t" d="M95 -47 A10 47 0 0 0 95 47"/><path class="t" d="M128 -47 A10 47 0 0 0 128 47"/></g>
<path class="ld" d="M954.6 74L954.6 102.8"/>
<g transform="translate(1030,80) scale(0.11533) translate(0,345)"><path class="of" d="M205 -200 L600 -182 C630 -120 640 -60 640 0 C640 60 630 120 600 182 L205 200 Z"/><ellipse class="b" style="fill:#fff" cx="205" cy="0" rx="55" ry="200" transform="rotate(0 205 0)" /><path class="b" d="M205 -198 L598 -180 M205 198 L598 180"/><path class="b" d="M225 -188 L600 -170 M225 188 L600 170"/><path class="b" d="M250 -100 L615 -95"/><path class="b" d="M262 -55 L628 -52"/><path class="b" d="M262 55 L628 52"/><path class="b" d="M250 98 L615 92"/><path class="o" d="M236 -150 C262 -60 262 60 236 150"/><path class="t" d="M560 -40 C540 -20 540 20 560 40 M575 0 L575 40"/><path class="b" d="M600 -182 C628 -120 638 -60 638 0 C638 60 628 120 600 182"/><path class="of" d="M925 -42 L1030 -42 L1030 42 L925 42 Z"/><ellipse class="b" style="fill:#888" cx="925" cy="0" rx="12" ry="42" transform="rotate(0 925 0)" /><path class="of" d="M1030 -42 L1052 -70 C1075 -75 1088 -40 1088 0 C1088 40 1075 75 1052 70 L1030 42 Z"/><ellipse class="of" cx="1060" cy="0" rx="26" ry="70" transform="rotate(0 1060 0)" /></g>
<path class="ld" d="M1075.9 74.5L1075.9 96.7"/>
<path class="ld" d="M1143.6 74.5L1143.6 115"/>
<path class="ld" d="M1022.4 119.8L1036.6 119.8"/>
<path class="ld" d="M1107.3 119.8L1121.7 119.8"/>
<g transform="translate(900,240) scale(0.23063) translate(0,190)"><path class="of" d="M92 -30 L350 -30 L350 -22 L360 -22 L360 22 L350 22 L350 30 L92 30 Z"/><path class="t" d="M350 -30 L350 30"/><path class="of" d="M55 -42 L90 -42 A8 42 0 0 1 90 42 L55 42 A8 42 0 0 1 55 -42 Z"/><path class="of" d="M55 -42 A8 42 0 0 1 55 42" style="fill:none"/><ellipse class="of" cx="55" cy="0" rx="8" ry="42" transform="rotate(0 55 0)" /><ellipse class="t" cx="56" cy="0" rx="4" ry="20" transform="rotate(0 56 0)" /><ellipse class="of" cx="622" cy="0" rx="30" ry="80" transform="rotate(0 622 0)" /><ellipse class="of" cx="622" cy="0" rx="14" ry="58" transform="rotate(0 622 0)" /></g>
<path class="ld" d="M948.4 244.6L948.4 276.9"/>
<path class="ld" d="M1043.5 244.6L1043.5 265.4"/>
<g transform="translate(1060,250) scale(0.09884) translate(0,343)"><path class="of" d="M740 -210 L895 -210 C925 -150 935 -70 935 0 C935 70 925 150 895 210 L740 210 Z"/><path class="o" d="M740 -210 C775 -140 785 -70 785 0 C785 70 775 140 740 210"/><path class="t" d="M765 -210 C800 -140 810 -70 810 0 C810 70 800 140 765 210"/><path class="of" d="M640 -190 L720 -190 C750 -130 760 -60 760 0 C760 60 750 130 720 190 L640 190 Z"/><path class="o" d="M670 -190 C700 -130 710 -60 710 0 C710 60 700 130 670 190"/><path class="of" d="M195 -150 C215 -172 240 -180 262 -178 L300 -170 C380 -150 470 -150 550 -175 L580 -190 C615 -130 625 -60 625 0 C625 60 615 130 580 190 L550 175 C470 150 380 150 300 170 L262 178 C240 180 215 172 195 150 Z"/><path class="o" d="M262 -178 C295 -120 302 -60 302 0 C302 60 295 120 262 178"/><path class="t" d="M290 -172 C322 -120 330 -60 330 0 C330 60 322 120 290 172"/><path class="b" d="M560 -182 C595 -125 605 -60 605 0 C605 60 595 125 560 182"/><path class="t" d="M590 -190 C625 -130 635 -60 635 0 C635 60 625 130 590 190"/><path class="b" d="M618 -188 C653 -130 663 -60 663 0 C663 60 653 130 618 188"/><path class="o" d="M640 -190 C672 -130 682 -60 682 0 C682 60 672 130 640 190"/><ellipse class="of" cx="195" cy="0" rx="50" ry="150" transform="rotate(0 195 0)" /><ellipse class="o" cx="193" cy="0" rx="36" ry="112" transform="rotate(0 193 0)" /><ellipse class="o" cx="190" cy="0" rx="22" ry="70" transform="rotate(0 190 0)" /><path class="o" d="M222 -125 C242 -80 246 -40 246 0 C246 40 242 80 222 125"/><path class="o" d="M420 -40 L590 -40 C610 -40 610 40 590 40 L420 40 C368 40 368 -40 420 -40 Z"/><path class="o" d="M425 -24 L500 -24 C530 -24 530 24 500 24 L425 24 C395 24 395 -24 425 -24 Z"/><ellipse class="o" cx="565" cy="0" rx="28" ry="26" transform="rotate(0 565 0)" /></g>
<path class="ld" d="M1098.6 206.9 L1098.6 229.9 M1069.4 229.9 L1128 229.9 L1128 265"/>
<g transform="translate(840,415) scale(0.16474) translate(0,201.5)"><path class="of" d="M455 -40 L455 -30 L472 -30 C482 -20 482 20 472 30 L455 30 L455 40 L190 40 L190 -40 Z"/><path class="t" d="M462 -30 C470 -15 470 15 462 30"/><path class="of" d="M135 -72 L180 -72 A14 72 0 0 1 180 72 L135 72 A14 72 0 0 1 135 -72 Z"/><path class="of" d="M135 -72 A14 72 0 0 1 135 72" style="fill:none"/><path class="o" d="M150 -72 A14 72 0 0 1 150 72"/><path class="t" d="M165 -72 A14 72 0 0 1 165 72"/><ellipse class="of" cx="135" cy="0" rx="14" ry="72" transform="rotate(0 135 0)" /><path class="of" d="M50 -46 L125 -46 L125 46 L50 46 Z"/><ellipse class="of" cx="50" cy="0" rx="12" ry="46" transform="rotate(0 50 0)" /><path class="t" d="M190 -40 C200 -20 200 20 190 40"/><ellipse class="b" cx="842.0" cy="0" rx="22" ry="72" transform="rotate(0 842.0 0)" /><ellipse class="o" cx="849.0" cy="0" rx="20" ry="66" transform="rotate(0 849.0 0)" /><ellipse class="b" cx="875.5" cy="0" rx="22" ry="72" transform="rotate(0 875.5 0)" /><ellipse class="o" cx="882.5" cy="0" rx="20" ry="66" transform="rotate(0 882.5 0)" /><ellipse class="b" cx="909.0" cy="0" rx="22" ry="72" transform="rotate(0 909.0 0)" /><ellipse class="o" cx="916.0" cy="0" rx="20" ry="66" transform="rotate(0 916.0 0)" /><ellipse class="b" cx="942.5" cy="0" rx="22" ry="72" transform="rotate(0 942.5 0)" /><ellipse class="o" cx="949.5" cy="0" rx="20" ry="66" transform="rotate(0 949.5 0)" /><ellipse class="b" cx="976.0" cy="0" rx="22" ry="72" transform="rotate(0 976.0 0)" /><ellipse class="o" cx="983.0" cy="0" rx="20" ry="66" transform="rotate(0 983.0 0)" /><ellipse class="b" cx="1009.5" cy="0" rx="22" ry="72" transform="rotate(0 1009.5 0)" /><ellipse class="o" cx="1016.5" cy="0" rx="20" ry="66" transform="rotate(0 1016.5 0)" /><ellipse class="b" cx="1043.0" cy="0" rx="22" ry="72" transform="rotate(0 1043.0 0)" /><ellipse class="o" cx="1050.0" cy="0" rx="20" ry="66" transform="rotate(0 1050.0 0)" /><ellipse class="b" cx="1076.5" cy="0" rx="22" ry="72" transform="rotate(0 1076.5 0)" /><ellipse class="o" cx="1083.5" cy="0" rx="20" ry="66" transform="rotate(0 1083.5 0)" /></g>
<path class="ld" d="M892.7 404L892.7 441.2"/>
<path class="ld" d="M1000.6 418.3L1000.6 436"/>
<g transform="translate(1060,400) scale(0.09884) translate(0,487)"><path class="of" d="M860 -215 L940 -215 C975 -170 992 -80 992 0 C992 80 975 170 940 215 L860 215 Z"/><path class="o" d="M870 -125 L975 -125 M880 -85 L985 -85 M880 85 L985 85 M870 125 L975 125"/><path class="t" d="M880 -215 C905 -140 912 -70 912 0 C912 70 905 140 880 215"/><path class="of" d="M640 -232 L860 -232 A55 232 0 0 1 860 232 L640 232 A55 232 0 0 1 640 -232 Z"/><path class="of" d="M640 -232 A55 232 0 0 1 640 232" style="fill:none"/><path class="b" d="M665 -232 A55 232 0 0 1 665 232"/><path class="t" d="M680 -228 A55 228 0 0 1 680 228"/><path class="b" d="M695 -232 A55 232 0 0 1 695 232"/><path class="t" d="M710 -228 A55 228 0 0 1 710 228"/><path class="b" d="M725 -232 A55 232 0 0 1 725 232"/><path class="t" d="M740 -228 A55 228 0 0 1 740 228"/><path class="b" d="M755 -232 A55 232 0 0 1 755 232"/><path class="t" d="M770 -228 A55 228 0 0 1 770 228"/><path class="b" d="M785 -232 A55 232 0 0 1 785 232"/><path class="t" d="M800 -228 A55 228 0 0 1 800 228"/><path class="b" d="M815 -232 A55 232 0 0 1 815 232"/><path class="t" d="M830 -228 A55 228 0 0 1 830 228"/><path class="b" d="M845 -232 A55 232 0 0 1 845 232"/><path class="t" d="M860 -228 A55 228 0 0 1 860 228"/><ellipse class="of" cx="640" cy="0" rx="55" ry="232" transform="rotate(0 640 0)" /><ellipse class="o" cx="640" cy="0" rx="48" ry="215" transform="rotate(0 640 0)" /><path class="of" d="M540 -190 L640 -190 L640 190 L540 190 Z"/><path class="of" d="M405 -212 L540 -212 A50 212 0 0 1 540 212 L405 212 A50 212 0 0 1 405 -212 Z"/><path class="of" d="M405 -212 A50 212 0 0 1 405 212" style="fill:none"/><ellipse class="of" cx="405" cy="0" rx="55" ry="212" transform="rotate(0 405 0)" /><ellipse class="o" cx="405" cy="0" rx="48" ry="195" transform="rotate(0 405 0)" /><ellipse class="b" cx="405" cy="0" rx="42" ry="178" transform="rotate(0 405 0)" /><ellipse class="t" cx="405" cy="0" rx="36" ry="160" transform="rotate(0 405 0)" /><path class="of" d="M270 -145 L380 -145 L380 145 L270 145 Z"/><ellipse class="of" cx="270" cy="0" rx="36" ry="145" transform="rotate(0 270 0)" /><ellipse class="t" cx="272" cy="0" rx="30" ry="125" transform="rotate(0 272 0)" /><path class="of" d="M160 -92 L245 -92 L245 92 L160 92 Z"/><ellipse class="of" cx="160" cy="0" rx="28" ry="92" transform="rotate(0 160 0)" /><ellipse class="o" cx="160" cy="0" rx="19" ry="70" transform="rotate(0 160 0)" /></g>
<path class="ld" d="M1115.4 403.5L1115.4 428.7"/>
<path class="ld" d="M759.2 612.3 L768 612.3"/>
<path class="of" d="M767.8 611.6 L791.9 608.1 L1086 608.1 L1086 616.5 L791.9 616.5 L767.8 613 Z"/>
<path class="t" d="M791.9 608.1 C793 610 793 614.6 791.9 616.5"/>
<path class="t" d="M776.5 610.4 C777 611.5 777 613.1 776.5 614.2"/>
<g transform="translate(1040,580) scale(0.11533) translate(0,280)"><path class="of" d="M535 -35 L950 -35 C965 -20 965 20 950 35 L535 35 Z"/><path class="ld" d="M965 0 L1000 0"/><path class="of" d="M450 -55 L520 -55 C538 -35 538 35 520 55 L450 55 Z"/><path class="of" d="M400 -75 L440 -75 A18 75 0 0 1 440 75 L400 75 A18 75 0 0 1 400 -75 Z"/><path class="of" d="M400 -75 A18 75 0 0 1 400 75" style="fill:none"/><ellipse class="b" style="fill:#fff" cx="400" cy="0" rx="18" ry="75" transform="rotate(0 400 0)" /><path class="b" d="M420 -75 A18 75 0 0 1 420 75"/></g>
<path class="ld" d="M939.1 585L939.1 608"/>
<g transform="translate(820,750) scale(0.16474) translate(0,242)"><path class="of" d="M95 -54 L460 -54 C472 -30 472 30 460 54 L95 54 C80 30 80 -30 95 -54 Z"/><path class="o" d="M108 -54 C118 -20 114 30 100 54"/><path class="o" d="M124 -54 C134 -20 130 30 116 54"/><path class="o" d="M140 -54 C150 -20 146 30 132 54"/><path class="o" d="M156 -54 C166 -20 162 30 148 54"/><path class="o" d="M172 -54 C182 -20 178 30 164 54"/><path class="o" d="M188 -54 C198 -20 194 30 180 54"/><path class="o" d="M204 -54 C214 -20 210 30 196 54"/><path class="o" d="M220 -54 C230 -20 226 30 212 54"/><path class="o" d="M236 -54 C246 -20 242 30 228 54"/><path class="o" d="M252 -54 C262 -20 258 30 244 54"/><path class="o" d="M268 -54 C278 -20 274 30 260 54"/><path class="o" d="M284 -54 C294 -20 290 30 276 54"/><path class="o" d="M300 -54 C310 -20 306 30 292 54"/><path class="o" d="M316 -54 C326 -20 322 30 308 54"/><path class="o" d="M332 -54 C342 -20 338 30 324 54"/><path class="o" d="M348 -54 C358 -20 354 30 340 54"/><path class="o" d="M364 -54 C374 -20 370 30 356 54"/><path class="o" d="M380 -54 C390 -20 386 30 372 54"/><path class="o" d="M396 -54 C406 -20 402 30 388 54"/><path class="o" d="M412 -54 C422 -20 418 30 404 54"/><path class="o" d="M428 -54 C438 -20 434 30 420 54"/><path class="o" d="M444 -54 C454 -20 450 30 436 54"/><path class="o" d="M460 -54 C470 -20 466 30 452 54"/><path class="k" d="M95 -54 L128 -54 C140 -20 136 30 122 54 L95 54 C80 30 80 -30 95 -54 Z"/><path class="b" d="M95 -54 L460 -54 M95 54 L460 54"/><path class="of" d="M985 -95 L1010 -108 L1095 -108 L1120 -80 C1130 -40 1130 40 1120 80 L1095 108 L1010 108 L985 95 Z"/><path class="o" d="M1010 -108 C1000 -50 1000 50 1010 108"/><path class="o" d="M1095 -108 C1108 -50 1108 50 1095 108"/><path class="t" d="M1002 -50 L1105 -50 M1002 50 L1105 50"/><path class="of" d="M890 -80 L990 -80 L990 80 L890 80 Z"/><path class="of" d="M770 -95 L880 -95 C898 -50 898 50 880 95 L770 95 Z"/><path class="of" d="M725 -82 L770 -95 L770 95 L725 82 Z"/><path class="o" d="M770 -95 C792 -50 792 50 770 95"/><path class="t" d="M795 -95 C815 -50 815 50 795 95"/><ellipse class="b" style="fill:#fff" cx="725" cy="0" rx="28" ry="82" transform="rotate(0 725 0)" /><ellipse class="t" cx="727" cy="0" rx="20" ry="66" transform="rotate(0 727 0)" /></g>
<path class="ld" d="M867.4 735L867.4 781"/>
<path class="ld" d="M973.5 733.5L973.5 776.4"/>
<g transform="translate(1020,740) scale(0.13180) translate(0,378)"><path class="of" d="M165 -208 L640 -183 C680 -120 695 -60 695 0 C695 60 680 120 640 183 L165 208 Z"/><ellipse class="b" style="fill:#fff" cx="165" cy="0" rx="55" ry="208" transform="rotate(0 165 0)" /><path class="b" d="M165 -206 L638 -181 M165 206 L638 181"/><path class="b" d="M185 -196 L640 -170 M185 196 L640 170"/><path class="b" d="M215 -97 C380 -92 560 -88 678 -82"/><path class="b" d="M222 -53 C380 -50 560 -47 690 -42"/><path class="b" d="M222 53 C380 50 560 47 690 42"/><path class="b" d="M215 97 C380 92 560 88 678 82"/><path class="o" d="M195 -170 C225 -60 225 60 195 170"/><path class="b" d="M640 -183 C678 -120 693 -60 693 0 C693 60 678 120 640 183"/><path class="of" d="M945 -36 L1040 -36 L1040 36 L945 36 Z"/><ellipse class="b" style="fill:#999" cx="945" cy="0" rx="10" ry="35" transform="rotate(0 945 0)" /><path class="of" d="M1040 -36 L1055 -60 C1075 -62 1084 -30 1084 0 C1084 30 1075 62 1055 60 L1040 36 Z"/><ellipse class="of" cx="1060" cy="0" rx="22" ry="60" transform="rotate(0 1060 0)" /></g>
<path class="ld" d="M1073.7 733.5L1073.7 763.5"/>
<path class="ld" d="M1150.3 734L1150.3 784.8"/>
</svg>
</body></html>
